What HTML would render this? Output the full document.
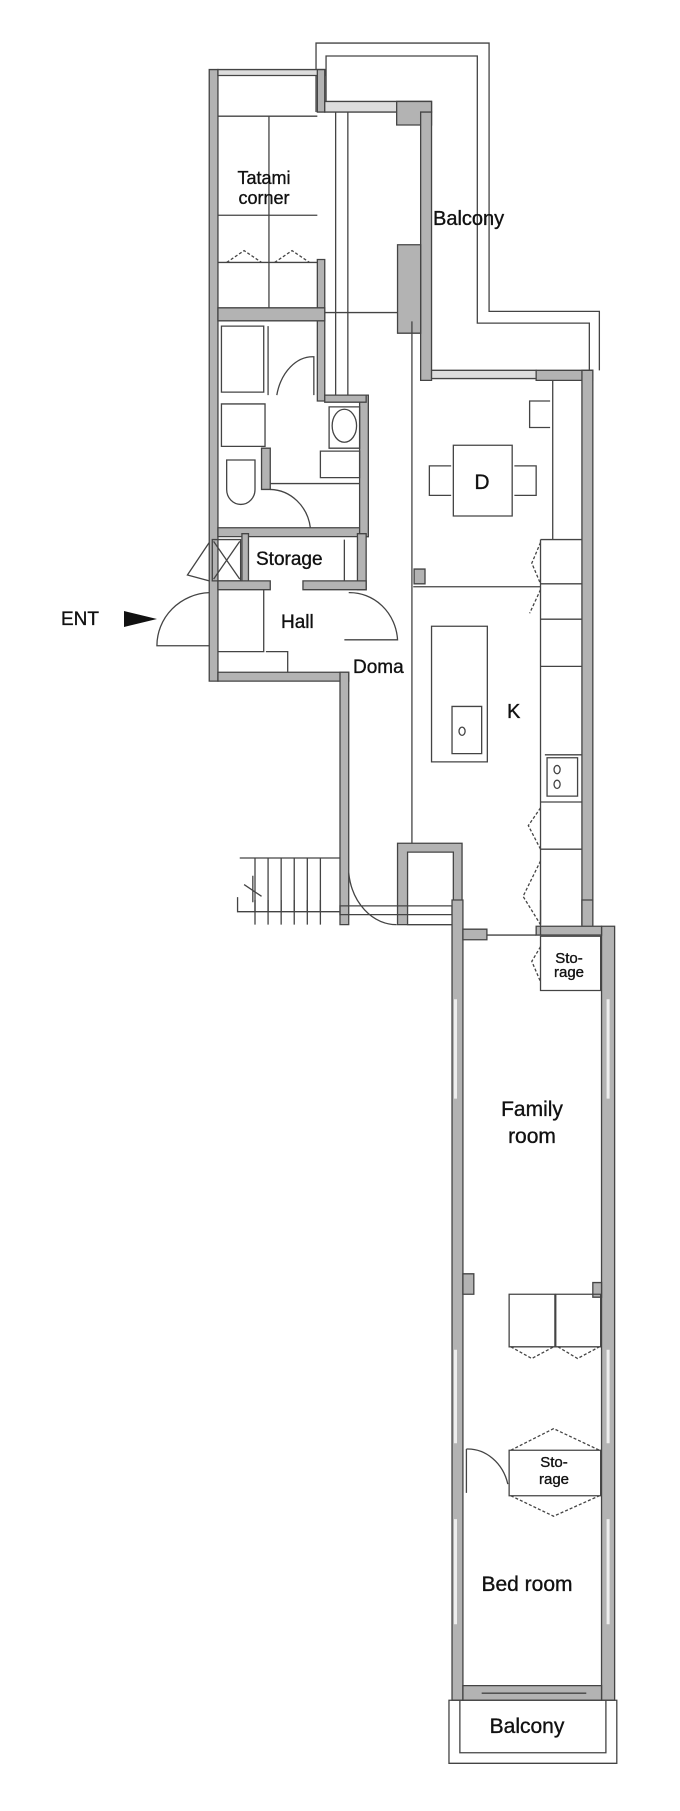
<!DOCTYPE html>
<html><head><meta charset="utf-8"><style>
html,body{margin:0;padding:0;background:#fff;}
svg{display:block;}
text{font-family:"Liberation Sans",sans-serif;fill:#111;stroke:#111;stroke-width:0.35;}
</style></head><body>
<svg width="680" height="1811" viewBox="0 0 680 1811" xmlns="http://www.w3.org/2000/svg">
<g transform="scale(0.4359,0.5897)" stroke="#444" stroke-width="1.3" fill="none">
 <path d="M725 190 V73 H1122 V528 H1375 V628" vector-effect="non-scaling-stroke"/>
 <path d="M748 190 V95 H1095 V548 H1352 V628" vector-effect="non-scaling-stroke"/>
 <g fill="#b3b3b3">
  <rect x="480" y="118" width="20" height="1037" vector-effect="non-scaling-stroke"/>
  <rect x="500" y="118" width="245" height="10" fill="#ddd" vector-effect="non-scaling-stroke"/>
  <rect x="728" y="118" width="17" height="72" vector-effect="non-scaling-stroke"/>
  <rect x="728" y="440" width="17" height="240" vector-effect="non-scaling-stroke"/>
  <rect x="500" y="522" width="245" height="22" vector-effect="non-scaling-stroke"/>
  <rect x="745" y="172" width="245" height="18" fill="#ddd" vector-effect="non-scaling-stroke"/>
  <rect x="910" y="172" width="80" height="40" vector-effect="non-scaling-stroke"/>
  <rect x="965" y="190" width="25" height="455" vector-effect="non-scaling-stroke"/>
  <rect x="912" y="415" width="53" height="150" vector-effect="non-scaling-stroke"/>
  <rect x="990" y="628" width="240" height="14" fill="#ddd" vector-effect="non-scaling-stroke"/>
  <rect x="1230" y="628" width="130" height="17" vector-effect="non-scaling-stroke"/>
  <rect x="1335" y="628" width="25" height="940" vector-effect="non-scaling-stroke"/>
  <rect x="600" y="760" width="20" height="70" vector-effect="non-scaling-stroke"/>
  <rect x="500" y="895" width="345" height="15" vector-effect="non-scaling-stroke"/>
  <rect x="825" y="670" width="20" height="240" vector-effect="non-scaling-stroke"/>
  <rect x="745" y="670" width="95" height="12" vector-effect="non-scaling-stroke"/>
  <rect x="555" y="905" width="15" height="90" vector-effect="non-scaling-stroke"/>
  <rect x="820" y="905" width="20" height="95" vector-effect="non-scaling-stroke"/>
  <rect x="500" y="985" width="120" height="15" vector-effect="non-scaling-stroke"/>
  <rect x="695" y="985" width="145" height="15" vector-effect="non-scaling-stroke"/>
  <rect x="500" y="1140" width="300" height="15" vector-effect="non-scaling-stroke"/>
  <rect x="780" y="1140" width="20" height="428" vector-effect="non-scaling-stroke"/>
  <rect x="912" y="1430" width="148" height="138" vector-effect="non-scaling-stroke"/>
  <rect x="950" y="965" width="25" height="25" vector-effect="non-scaling-stroke"/>
 </g>
 <rect x="935" y="1445" width="105" height="123" fill="#fff" vector-effect="non-scaling-stroke"/>
 <path d="M500 197 H728 M500 365 H728 M500 445 H728 M617 197 V522 M798 190 V670 M770 190 V670 M745 530 H912" vector-effect="non-scaling-stroke"/>
 <path d="M520 445 L560 425 L600 445 M630 445 L670 425 L710 445" stroke-dasharray="3 2" vector-effect="non-scaling-stroke"/>
 <rect x="508" y="553" width="97" height="112" vector-effect="non-scaling-stroke"/>
 <path d="M615 553 V670 M635 670 A85 85 0 0 1 720 605 V670" vector-effect="non-scaling-stroke"/>
 <rect x="508" y="685" width="100" height="72" vector-effect="non-scaling-stroke"/>
 <rect x="755" y="690" width="70" height="70" vector-effect="non-scaling-stroke"/>
 <ellipse cx="790" cy="722" rx="28" ry="28" vector-effect="non-scaling-stroke"/>
 <rect x="735" y="765" width="90" height="45" vector-effect="non-scaling-stroke"/>
 <path d="M620 820 H825 M520 780 H585 V830 A32 25 0 0 1 520 830 Z M620 830 A95 75 0 0 1 712 895" vector-effect="non-scaling-stroke"/>
 <rect x="487" y="915" width="65" height="70" vector-effect="non-scaling-stroke"/>
 <path d="M490 918 L550 982 M550 918 L490 982 M790 915 V985 M480 920 L430 975 L480 985" vector-effect="non-scaling-stroke"/>
 <path d="M480 1095 H360 A125 90 0 0 1 480 1005 M790 1085 H912 A110 85 0 0 0 800 1005" vector-effect="non-scaling-stroke"/>
 <path d="M605 1000 V1105 H500 M610 1105 H660 V1140" vector-effect="non-scaling-stroke"/>
 <path d="M945 545 V1430 M948 995 H1240 M1268 645 V915" vector-effect="non-scaling-stroke"/>
 <rect x="1040" y="755" width="135" height="120" vector-effect="non-scaling-stroke"/>
 <path d="M1035 790 H985 V840 H1035 M1180 790 H1230 V840 H1180 M1262 680 H1215 V725 H1262" vector-effect="non-scaling-stroke"/>
 <rect x="990" y="1062" width="128" height="230" vector-effect="non-scaling-stroke"/>
 <rect x="1037" y="1198" width="68" height="80" vector-effect="non-scaling-stroke"/>
 <circle cx="1060" cy="1240" r="7" vector-effect="non-scaling-stroke"/>
 <path d="M1240 915 H1335 M1240 915 V1568 M1240 990 H1335 M1240 1050 H1335 M1240 1130 H1335 M1250 1280 H1335 M1240 1360 H1335 M1240 1440 H1335" vector-effect="non-scaling-stroke"/>
 <rect x="1255" y="1285" width="70" height="65" vector-effect="non-scaling-stroke"/>
 <circle cx="1278" cy="1305" r="7" vector-effect="non-scaling-stroke"/>
 <circle cx="1278" cy="1330" r="7" vector-effect="non-scaling-stroke"/>
 <path d="M1240 920 L1220 955 L1240 990 M1240 1000 L1215 1040 M1240 1370 L1212 1400 L1240 1440 M1240 1460 L1200 1520 L1240 1568" stroke-dasharray="3 2" vector-effect="non-scaling-stroke"/>
 <path d="M550 1455 H780 M585 1455 V1568 M615 1455 V1568 M645 1455 V1568 M675 1455 V1568 M705 1455 V1568 M735 1455 V1568 M800 1480 A110 100 0 0 0 910 1568" vector-effect="non-scaling-stroke"/>
 <path d="M560 1500 L600 1520 M580 1485 L580 1530" vector-effect="non-scaling-stroke"/>
</g>
<g transform="translate(0,900) scale(0.4359,0.5841)" stroke="#444" stroke-width="1.3" fill="none">
 <path d="M545 -5 V20 H780 M585 0 V20 M615 0 V20 M645 0 V20 M675 0 V20 M705 0 V20 M735 0 V20" vector-effect="non-scaling-stroke"/>
 <rect x="780" y="10" width="257" height="15" vector-effect="non-scaling-stroke"/>
 <g fill="#b3b3b3">
  <rect x="1037" y="0" width="25" height="1370" vector-effect="non-scaling-stroke"/>
  <rect x="1335" y="0" width="25" height="50" vector-effect="non-scaling-stroke"/>
  <rect x="1380" y="45" width="30" height="1325" vector-effect="non-scaling-stroke"/>
  <rect x="1062" y="50" width="55" height="18" vector-effect="non-scaling-stroke"/>
  <rect x="1230" y="45" width="150" height="15" vector-effect="non-scaling-stroke"/>
  <rect x="1062" y="1345" width="318" height="25" vector-effect="non-scaling-stroke"/>
  <rect x="1062" y="640" width="25" height="35" vector-effect="non-scaling-stroke"/>
  <rect x="1360" y="655" width="20" height="25" vector-effect="non-scaling-stroke"/>
 </g>
 <path d="M1117 60 H1230 M1240 0 V60 M1105 1358 H1345" vector-effect="non-scaling-stroke"/>
 <rect x="1240" y="62" width="138" height="93" vector-effect="non-scaling-stroke"/>
 <rect x="1168" y="675" width="105" height="90" vector-effect="non-scaling-stroke"/>
 <rect x="1275" y="675" width="103" height="90" vector-effect="non-scaling-stroke"/>
 <rect x="1168" y="942" width="210" height="78" vector-effect="non-scaling-stroke"/>
 <path d="M1172 765 L1220 785 L1270 765 M1280 765 L1325 785 L1375 765 M1172 942 L1270 905 L1375 942 M1172 1020 L1270 1055 L1375 1020 M1240 80 L1220 105 L1240 140" stroke-dasharray="3 2" vector-effect="non-scaling-stroke"/>
 <path d="M1070 940 V1015 M1070 940 A95 80 0 0 1 1165 1000" vector-effect="non-scaling-stroke"/>
 <path d="M1045 170 V340 M1045 770 V930 M1045 1060 V1240 M1395 170 V340 M1395 770 V930 M1395 1060 V1240" stroke="#eee" stroke-width="3" vector-effect="non-scaling-stroke"/>
 <rect x="1030" y="1370" width="385" height="108" vector-effect="non-scaling-stroke"/>
 <path d="M1055 1370 V1460 H1390 V1370" vector-effect="non-scaling-stroke"/>
</g>
<g>
 <text x="264" y="184" text-anchor="middle" font-size="18">Tatami</text>
 <text x="264" y="204" text-anchor="middle" font-size="18">corner</text>
 <text x="433" y="225" font-size="20">Balcony</text>
 <text x="482" y="489" text-anchor="middle" font-size="21">D</text>
 <text x="256" y="565" font-size="19">Storage</text>
 <text x="61" y="625" font-size="19">ENT</text>
 <polygon points="124,611 157,619 124,627" fill="#111"/>
 <text x="281" y="628" font-size="19">Hall</text>
 <text x="353" y="673" font-size="19">Doma</text>
 <text x="507" y="718" font-size="20">K</text>
 <text x="569" y="963" text-anchor="middle" font-size="15">Sto-</text>
 <text x="569" y="977" text-anchor="middle" font-size="15">rage</text>
 <text x="532" y="1116" text-anchor="middle" font-size="21">Family</text>
 <text x="532" y="1143" text-anchor="middle" font-size="21">room</text>
 <text x="554" y="1467" text-anchor="middle" font-size="15">Sto-</text>
 <text x="554" y="1484" text-anchor="middle" font-size="15">rage</text>
 <text x="527" y="1591" text-anchor="middle" font-size="21">Bed room</text>
 <text x="527" y="1733" text-anchor="middle" font-size="21">Balcony</text>
</g>
</svg>
</body></html>
